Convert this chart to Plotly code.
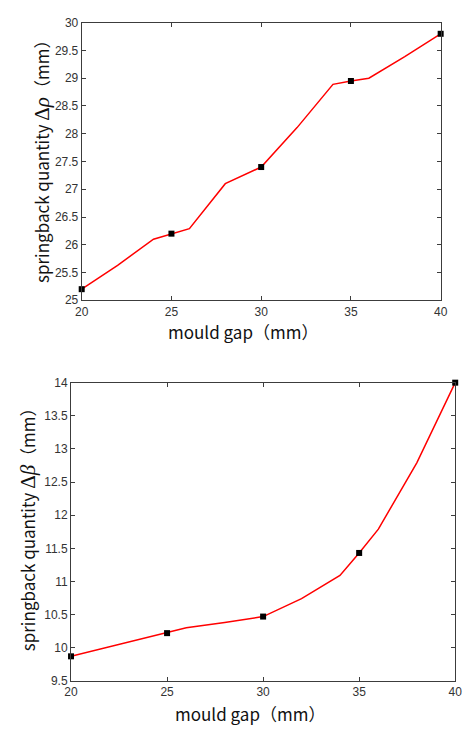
import plotly.graph_objects as go

W, H = 469, 731

# mould gap values (mm)
gap = [20, 22, 24, 25, 26, 28, 30, 32, 34, 35, 36, 38, 40]
# springback quantity Δρ (mm)
rho = [25.2, 25.63, 26.1, 26.2, 26.29, 27.1, 27.4, 28.11, 28.89, 28.95, 29.0, 29.39, 29.8]
# springback quantity Δβ (mm)
beta = [9.87, 10.01, 10.15, 10.22, 10.3, 10.38, 10.47, 10.74, 11.09, 11.43, 11.79, 12.79, 14.0]

# measured points shown with markers
mark_gap = [20, 25, 30, 35, 40]
mark_rho = [25.2, 26.2, 27.4, 28.95, 29.8]
mark_beta = [9.87, 10.22, 10.47, 11.43, 14.0]

x_ticks = [20, 25, 30, 35, 40]
rho_ticks = [25, 25.5, 26, 26.5, 27, 27.5, 28, 28.5, 29, 29.5, 30]
beta_ticks = [9.5, 10, 10.5, 11, 11.5, 12, 12.5, 13, 13.5, 14]

AX = "#3c3c3c"
TICKFONT = dict(family="Liberation Sans, Arial", size=12, color="#333333")
TITLEFONT = dict(family="Noto Sans CJK SC, Noto Sans", size=17, color="#111111")

fig = go.Figure()

fig.add_trace(go.Scatter(x=gap, y=rho, mode="lines", line=dict(color="#ff0000", width=1.5),
                         xaxis="x", yaxis="y", showlegend=False))
fig.add_trace(go.Scatter(x=mark_gap, y=mark_rho, mode="markers",
                         marker=dict(symbol="square", size=6, color="#000000"),
                         xaxis="x", yaxis="y", showlegend=False, cliponaxis=False))
fig.add_trace(go.Scatter(x=gap, y=beta, mode="lines", line=dict(color="#ff0000", width=1.5),
                         xaxis="x2", yaxis="y2", showlegend=False))
fig.add_trace(go.Scatter(x=mark_gap, y=mark_beta, mode="markers",
                         marker=dict(symbol="square", size=6, color="#000000"),
                         xaxis="x2", yaxis="y2", showlegend=False, cliponaxis=False))


def axis_style(**kw):
    d = dict(showline=True, linecolor=AX, linewidth=1, mirror="ticks",
             ticks="inside", ticklen=4, tickcolor=AX, tickwidth=1,
             showgrid=False, zeroline=False, tickfont=TICKFONT)
    d.update(kw)
    return d


fig.update_layout(
    width=W, height=H,
    margin=dict(l=0, r=0, t=0, b=0),
    paper_bgcolor="white", plot_bgcolor="white",
    xaxis=axis_style(domain=[77 / W, 447 / W], range=[20, 40], tickvals=x_ticks,
                     anchor="y"),
    yaxis=axis_style(domain=[(H - 299) / H, (H - 16) / H], range=[25, 30],
                     tickvals=rho_ticks, anchor="x"),
    xaxis2=axis_style(domain=[66 / W, 462 / W], range=[20, 40], tickvals=x_ticks,
                      anchor="y2"),
    yaxis2=axis_style(domain=[(H - 687) / H, (H - 383) / H], range=[9.5, 14],
                      tickvals=beta_ticks, anchor="x2"),
)

SERIF = "font-family:'Liberation Serif',serif;font-size:21px"
titles = [
    dict(text="mould gap（mm）", x=243 / W, y=(H - 331) / H, textangle=0),
    dict(text=f"springback quantity <span style=\"{SERIF}\">Δ<i>ρ</i></span>（mm）",
         x=35 / W, y=(H - 153) / H, textangle=-90),
    dict(text="mould gap（mm）", x=250 / W, y=(H - 720) / H, textangle=0),
    dict(text=f"springback quantity <span style=\"{SERIF}\">Δ<i>β</i></span>（mm）",
         x=22 / W, y=(H - 528) / H, textangle=-90),
]
for t in titles:
    fig.add_annotation(text=t["text"], x=t["x"], y=t["y"], xref="paper", yref="paper",
                       xanchor="center", yanchor="middle", showarrow=False,
                       textangle=t["textangle"], font=TITLEFONT)

fig.write_html("out.html")
